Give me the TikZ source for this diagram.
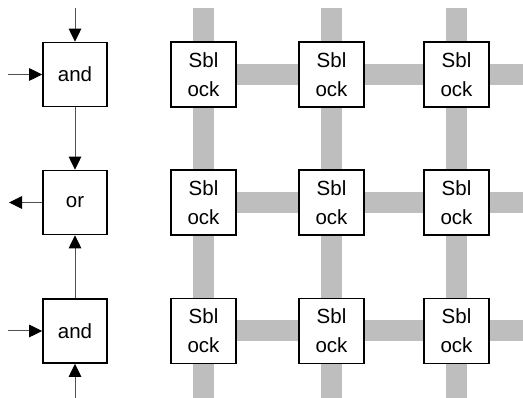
\documentclass[tikz,border=0pt]{standalone}
\usepackage{fontspec}
\setmainfont{Liberation Sans}
\usetikzlibrary{arrows.meta}
\definecolor{bargray}{RGB}{190,190,190}
\definecolor{linegray}{RGB}{80,80,80}
\begin{document}
\begin{tikzpicture}[x=1pt,y=-1pt,
  gate/.style={draw=black,line width=1.6pt,fill=white,minimum width=64pt,minimum height=64pt,inner sep=0pt,font=\fontsize{20.5}{24}\selectfont},
  sblock/.style={draw=black,line width=1.6pt,fill=white,minimum width=65pt,minimum height=65pt,inner sep=0pt,align=center,font=\fontsize{20.5}{29}\selectfont},
  bar/.style={bargray,line width=21pt},
  sig/.style={draw=linegray,line width=1pt,-{Triangle[length=13pt,width=12.5pt,color=black]}}]
\useasboundingbox (0,0) rectangle (523,398);
% bars
\foreach \x in {203.5,331.5,456.5} \draw[bar] (\x,8) -- (\x,398);
\foreach \y in {74.5,202.5,331} \draw[bar] (203.5,\y) -- (523,\y);
% sblocks
\foreach \x/\c in {203.5/1,331.5/2,456.5/3}
  \foreach \y/\r in {74.5/1,202.5/2,331/3}
    \node[sblock] (s\r\c) at (\x,\y) {Sbl\\ock};
% gates
\node[gate] (and1) at (75,74.5) {and};
\node[gate] (or) at (75,202.5) {or};
\node[gate] (and2) at (75,331) {and};
\coordinate (t1) at (75,8);
\coordinate (l1) at (8,74.5);
\coordinate (l2) at (9,202.5);
\coordinate (l3) at (8,331);
\coordinate (b3) at (75,398);
\draw[sig] (t1) -- (and1.north);
\draw[sig] (l1) -- (and1.west);
\draw[sig] (and1.south) -- (or.north);
\draw[sig] (or.west) -- (l2);
\draw[sig] (and2.north) -- (or.south);
\draw[sig] (l3) -- (and2.west);
\draw[sig] (b3) -- (and2.south);
\end{tikzpicture}
\end{document}
